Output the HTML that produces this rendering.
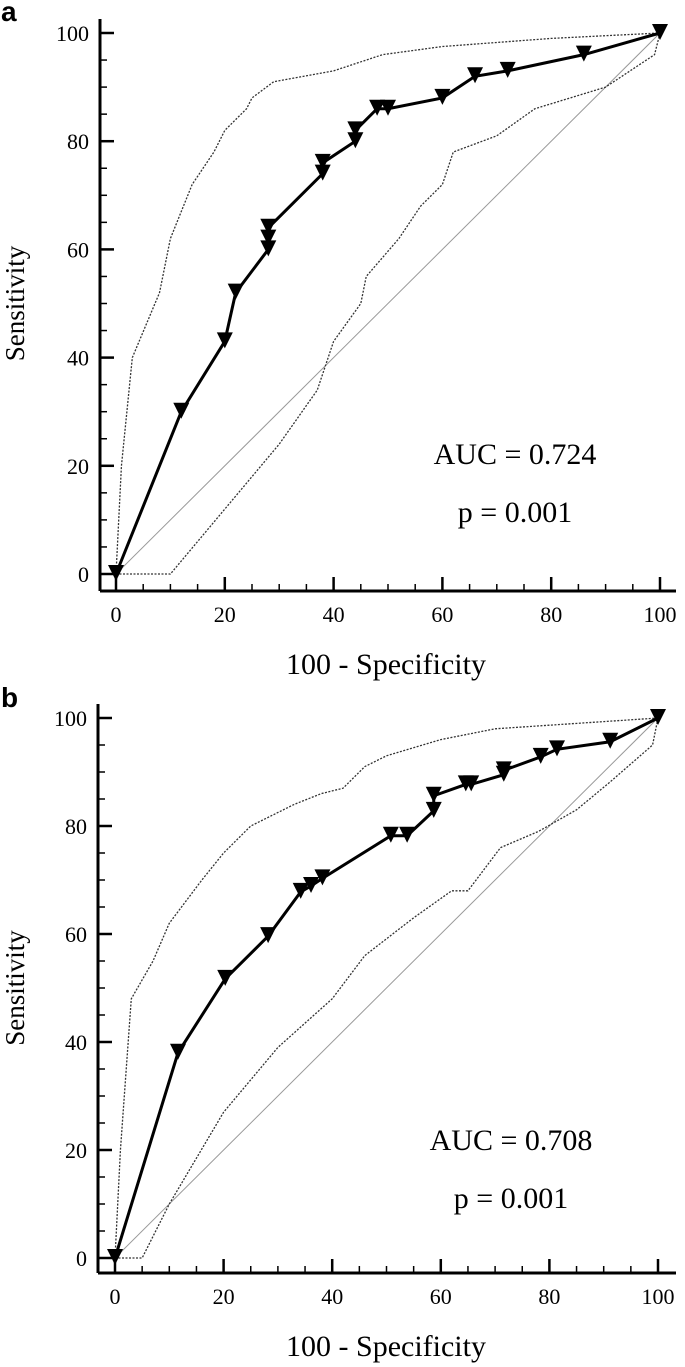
<!DOCTYPE html>
<html><head><meta charset="utf-8"><style>
html,body{margin:0;padding:0;background:#fff;}
svg{display:block;}
text{font-family:"Liberation Serif",serif;fill:#000;}
</style></head><body>
<svg id="chart" width="685" height="1367" viewBox="0 0 685 1367" xmlns="http://www.w3.org/2000/svg"></svg>
<script>
const xTicks=[0,20,40,60,80,100];
const yTicks=[0,20,40,60,80,100];
const aRocX=[0,12,20,22,28,28,28,38,38,44,44,48,50,60,66,72,86,100];
const aRocY=[0,30,43,52,60,62,64,74,76,80,82,86,86,88,92,93,96,100];
const aUpX=[0,1,3,8,10,14,18,20,24,25,29,40,49,60,80,100];
const aUpY=[0,20,40,52,62,72,78,82,86,88,91,93,96,97.5,99,100];
const aLoX=[0,10,20,30,37,40,45,46,52,56,60,62,70,77,90,99,100];
const aLoY=[0,0,12,24,34,43,50,55,62,68,72,78,81,86,90,96,100];
const bRocX=[0,11.6,20.3,28.2,34.2,36.1,38.2,50.8,53.8,58.7,58.7,64.6,65.6,71.6,71.6,78.4,81.4,91.2,100];
const bRocY=[0,38,51.7,59.6,67.8,68.9,70.3,78.2,78.2,82.8,85.6,87.7,87.7,89.5,90.3,92.8,94.2,95.6,100];
const bUpX=[0,1,3,7,10,16,20,25,33,38,42,46,50,60,70,100];
const bUpY=[0,20,48,55,62,70,75,80,84,86,87,91,93,96,98,100];
const bLoX=[0,5,10,20,30,40,46,55,62,65,71,78,85,91,99,100];
const bLoY=[0,0,10,27,39,48,56,63,68,68,76,79,83,88,95,100];

const NS='http://www.w3.org/2000/svg';
const svg=document.getElementById('chart');
function mk(tag,attrs,parent){const e=document.createElementNS(NS,tag);for(const k in attrs)e.setAttribute(k,attrs[k]);(parent||svg).appendChild(e);return e;}

function panel(p){
  const g=mk('g',{});
  
  
  const sx=v=>p.x0+(p.x1-p.x0)*v/100;
  const sy=v=>p.y0+(p.y1-p.y0)*v/100;
  const L=mk('text',{x:1,y:p.letterY,'font-size':28,'font-weight':'bold',style:'font-family:"Liberation Sans",sans-serif'},g);
  L.textContent=p.id;
  
  
  const ya=mk('line',{x1:p.ax,y1:p.y1-14,x2:p.ax,y2:p.axY,stroke:'#000','stroke-width':3},g);
  
  
  const xa=mk('line',{x1:p.ax,y1:p.axY,x2:676,y2:p.axY,stroke:'#000','stroke-width':3},g);
  
  
  for(let v=0;v<=100;v+=5){
    const maj=v%20===0;
    mk('line',{x1:p.ax,x2:p.ax+(maj?14:7),y1:sy(v),y2:sy(v),stroke:'#000','stroke-width':maj?2.5:1.5},g);
    mk('line',{x1:sx(v),x2:sx(v),y1:p.axY,y2:p.axY-(maj?14:7),stroke:'#000','stroke-width':maj?2.5:1.5},g);
  }
  yTicks.forEach(v=>{const t=mk('text',{x:p.ax-11,y:sy(v)+8,'font-size':22,'text-anchor':'end'},g);t.textContent=v;
    });
  xTicks.forEach(v=>{const t=mk('text',{x:sx(v),y:p.axY+31,'font-size':22,'text-anchor':'middle'},g);t.textContent=v;
    });
  const yt=mk('text',{x:0,y:0,'font-size':27,'text-anchor':'middle',transform:`translate(24,${(p.y0+p.y1)/2}) rotate(-90)`},g);
  yt.textContent='Sensitivity';
  
  
  const xt=mk('text',{x:386,y:p.axY+83,'font-size':30,'text-anchor':'middle'},g);
  xt.textContent='100 - Specificity';
  
  
  const d=mk('line',{x1:sx(0),y1:sy(0),x2:sx(100),y2:sy(100),stroke:'#999','stroke-width':1},g);
  
  
  const pts=(X,Y)=>X.map((v,i)=>sx(v)+','+sy(Y[i])).join(' ');
  const up=mk('polyline',{points:pts(p.upX,p.upY),fill:'none',stroke:'#333','stroke-width':1.3,'stroke-dasharray':'2,1.5'},g);
  
  
  const lo=mk('polyline',{points:pts(p.loX,p.loY),fill:'none',stroke:'#333','stroke-width':1.3,'stroke-dasharray':'2,1.5'},g);
  
  
  const roc=mk('polyline',{points:pts(p.rocX,p.rocY),fill:'none',stroke:'#000','stroke-width':3},g);
  
  
  p.rocX.forEach((v,i)=>{const cx=sx(v),cy=sy(p.rocY[i]);
    const m=mk('polygon',{points:`${cx-8},${cy-9} ${cx+8},${cy-9} ${cx},${cy+7}`,fill:'#000'},g);
    
    });
  const a=mk('text',{x:p.textX,y:p.aucY,'font-size':30,'text-anchor':'middle'},g);a.textContent=p.auc;
  
  
  const pv=mk('text',{x:p.textX,y:p.aucY+58,'font-size':30,'text-anchor':'middle'},g);pv.textContent='p = 0.001';
  
  
}
panel({id:'a',letterY:21,x0:116,x1:660,y0:574,y1:33,ax:100,axY:591,
  rocX:aRocX,rocY:aRocY,upX:aUpX,upY:aUpY,loX:aLoX,loY:aLoY,auc:'AUC = 0.724',textX:515,aucY:464});
panel({id:'b',letterY:707,x0:115,x1:658,y0:1258,y1:718,ax:98,axY:1273,
  rocX:bRocX,rocY:bRocY,upX:bUpX,upY:bUpY,loX:bLoX,loY:bLoY,auc:'AUC = 0.708',textX:511,aucY:1150});
</script>
</body></html>
